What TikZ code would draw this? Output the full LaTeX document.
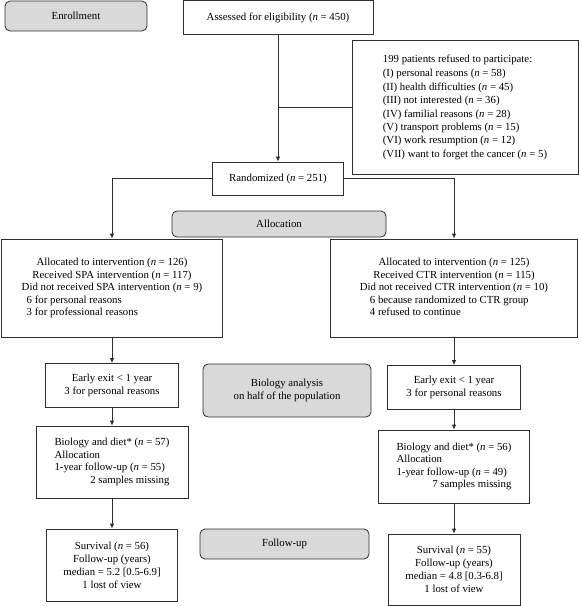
\documentclass[tikz,border=0pt]{standalone}
\usepackage{fontspec}
\setmainfont{Liberation Serif}
\usetikzlibrary{arrows.meta}
\newcommand{\nn}{\textit{n}}
\definecolor{stagefill}{HTML}{D9D9D9}
\definecolor{linecol}{HTML}{2E2E2E}
\begin{document}
\begin{tikzpicture}[x=1pt,y=-1pt,
  box/.style={draw=linecol, line width=0.8pt, fill=white, inner sep=0pt, font=\fontsize{10.8}{12.5}\selectfont},
  stage/.style={draw=linecol, line width=0.8pt, fill=stagefill, rounded corners=5pt, inner sep=0pt, font=\fontsize{10.8}{12.5}\selectfont},
  conn/.style={line width=0.8pt, draw=linecol},
  arr/.style={conn, -{Latex[length=5pt,width=4.5pt]}}]
\useasboundingbox (0,0) rectangle (579,606);

% enrollment stage
\node[stage, minimum width=142pt, minimum height=30pt] (enroll) at (76,16) {Enrollment};
\node[box, minimum width=190pt, minimum height=34pt] (assess) at (278,17.5) {Assessed for eligibility (\nn{} = 450)};
\node[box, minimum width=226pt, minimum height=134pt, font=\fontsize{10.8}{13.4}\selectfont] (refused) at (465,107) {\begin{tabular}{@{}l@{}}
199 patients refused to participate:\\[1.5pt]
(I) personal reasons (\nn{} = 58)\\
(II) health difficulties (\nn{} = 45)\\
(III) not interested (\nn{} = 36)\\
(IV) familial reasons (\nn{} = 28)\\
(V) transport problems (\nn{} = 15)\\
(VI) work resumption (\nn{} = 12)\\
(VII) want to forget the cancer (\nn{} = 5)
\end{tabular}};
\node[box, minimum width=131pt, minimum height=33pt] (rand) at (278,178.5) {Randomized (\nn{} = 251)};

\draw[arr] (assess.south) -- (rand.north);
\draw[conn] (assess.south |- refused.west) -- (refused.west);

% allocation stage
\node[stage, minimum width=214pt, minimum height=26pt] (alloc) at (279,224) {Allocation};
\node[box, minimum width=221pt, minimum height=98pt] (spa) at (112,288) {\begin{tabular}{@{}l@{}}
\multicolumn{1}{@{}c@{}}{Allocated to intervention (\nn{} = 126)}\\
\multicolumn{1}{@{}c@{}}{Received SPA intervention (\nn{} = 117)}\\
Did not received SPA intervention (\nn{} = 9)\\
\hspace{5pt}6 for personal reasons\\
\hspace{5pt}3 for professional reasons
\end{tabular}};
\node[box, minimum width=247pt, minimum height=98pt] (ctr) at (454,288) {\begin{tabular}{@{}l@{}}
\multicolumn{1}{@{}c@{}}{Allocated to intervention (\nn{} = 125)}\\
\multicolumn{1}{@{}c@{}}{Received CTR intervention (\nn{} = 115)}\\
Did not received CTR intervention (\nn{} = 10)\\
\hspace{10pt}6 because randomized to CTR group\\
\hspace{10pt}4 refused to continue
\end{tabular}};

\draw[arr] (rand.west) -| (spa.north);
\draw[arr] (rand.east) -| (ctr.north);

% biology stage
\node[box, minimum width=133pt, minimum height=44pt, align=center] (exitL) at (112,385.5) {Early exit < 1 year\\3 for personal reasons};
\node[box, minimum width=133pt, minimum height=44pt, align=center] (exitR) at (454,387.5) {Early exit < 1 year\\3 for personal reasons};
\node[stage, minimum width=168pt, minimum height=53pt, align=center] (bioA) at (287,390.5) {Biology analysis\\on half of the population};

\node[box, minimum width=152pt, minimum height=72pt] (bioL) at (112,462) {\begin{tabular}{@{}l@{}}
Biology and diet* (\nn{} = 57)\\
Allocation\\
1-year follow-up (\nn{} = 55)\\
\multicolumn{1}{@{}r@{}}{2 samples missing}
\end{tabular}};
\node[box, minimum width=151pt, minimum height=73pt] (bioR) at (454,466.5) {\begin{tabular}{@{}l@{}}
Biology and diet* (\nn{} = 56)\\
Allocation\\
1-year follow-up (\nn{} = 49)\\
\multicolumn{1}{@{}r@{}}{7 samples missing}
\end{tabular}};

\draw[arr] (spa.south) -- (exitL.north);
\draw[arr] (ctr.south) -- (exitR.north);
\draw[arr] (exitL.south) -- (bioL.north);
\draw[arr] (exitR.south) -- (bioR.north);

% follow-up stage
\node[stage, minimum width=169pt, minimum height=30pt] (follow) at (284.5,544) {Follow-up};
\node[box, minimum width=131pt, minimum height=72pt, align=center, font=\fontsize{10.8}{13}\selectfont] (survL) at (112,565) {Survival (\nn{} = 56)\\Follow-up (years)\\median = 5.2 [0.5-6.9]\\1 lost of view};
\node[box, minimum width=132pt, minimum height=71pt, align=center, font=\fontsize{10.8}{13}\selectfont] (survR) at (454,569.5) {Survival (\nn{} = 55)\\Follow-up (years)\\median = 4.8 [0.3-6.8]\\1 lost of view};

\draw[arr] (bioL.south) -- (survL.north);
\draw[arr] (bioR.south) -- (survR.north);
\end{tikzpicture}
\end{document}
